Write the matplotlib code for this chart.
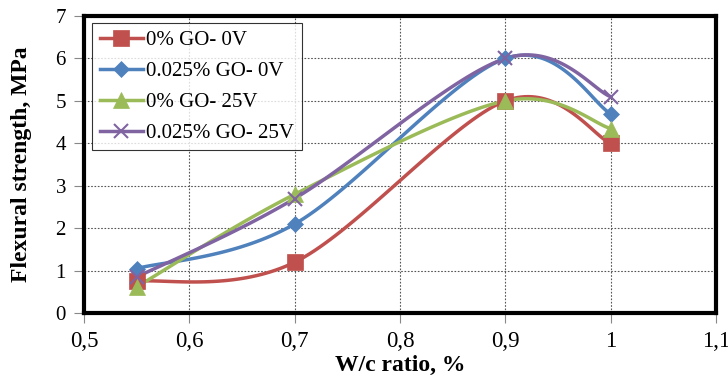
import numpy as np
import matplotlib.pyplot as plt
from matplotlib.ticker import FuncFormatter

# data
wc_ratio = [0.55, 0.7, 0.9, 1.0]
go0_0v = [0.75, 1.2, 5.0, 4.0]
go025_0v = [1.05, 2.1, 6.0, 4.7]
go0_25v = [0.62, 2.8, 5.0, 4.35]
go025_25v = [0.85, 2.7, 6.0, 5.1]
labels = ['0% GO- 0V', '0.025% GO- 0V', '0% GO- 25V', '0.025% GO- 25V']


def smooth(x, y, n=40):
    # Excel-like smoothed line: Catmull-Rom bezier between points
    x = np.asarray(x, float)
    y = np.asarray(y, float)
    px = np.concatenate([[x[0]], x, [x[-1]]])
    py = np.concatenate([[y[0]], y, [y[-1]]])
    xs, ys = [], []
    t = np.linspace(0, 1, n)
    for i in range(1, len(px) - 2):
        p0 = np.array([px[i], py[i]])
        p3 = np.array([px[i + 1], py[i + 1]])
        p1 = p0 + (p3 - np.array([px[i - 1], py[i - 1]])) / 6
        p2 = p3 - (np.array([px[i + 2], py[i + 2]]) - p0) / 6
        b = ((1 - t) ** 3)[:, None] * p0 + (3 * (1 - t) ** 2 * t)[:, None] * p1 \
            + (3 * (1 - t) * t ** 2)[:, None] * p2 + (t ** 3)[:, None] * p3
        xs.extend(b[:, 0])
        ys.extend(b[:, 1])
    return xs, ys


plt.rcParams['font.family'] = ['Liberation Serif', 'DejaVu Serif']

fig = plt.figure(figsize=(7.28, 3.81), dpi=100)
ax = fig.add_axes([0.1154, 0.178, 0.868, 0.78])

series = [go0_0v, go025_0v, go0_25v, go025_25v]
colors = ['#C0504D', '#4F81BD', '#9BBB59', '#8064A2']
markers = ['s', 'D', '^', 'x']
msizes = [11, 8, 11, 10]

for vals, lab, c, m, ms in zip(series, labels, colors, markers, msizes):
    sx, sy = smooth(wc_ratio, vals)
    ax.plot(sx, sy, color=c, lw=2.5, zorder=3)
    ax.plot(wc_ratio, vals, ls='none', marker=m, color=c, ms=ms,
            mew=1.5 if m == 'x' else 0.5, zorder=4)
    ax.plot([], [], color=c, lw=2.5, marker=m, ms=ms,
            mew=1.5 if m == 'x' else 0.5, label=lab)

ax.set_xlim(0.5, 1.1)
ax.set_ylim(0, 7)
ax.set_xticks(np.arange(0.5, 1.11, 0.1))
ax.set_yticks(range(0, 8))
ax.xaxis.set_major_formatter(FuncFormatter(lambda v, p: ('%g' % round(v, 1)).replace('.', ',')))
ax.grid(True, color='#555555', ls=(0, (1.5, 1.5)), lw=0.8)
ax.tick_params(color='#888888', length=7)
ax.tick_params(axis='x', labelsize=16.5, pad=6)
ax.tick_params(axis='y', labelsize=15, pad=6)
for s in ax.spines.values():
    s.set_linewidth(3)
    s.set_color('black')

ax.set_xlabel('W/c ratio, %', fontsize=17, fontweight='bold')
ax.set_ylabel('Flexural strength, MPa', fontsize=17, fontweight='bold')
ax.xaxis.set_label_coords(0.5, -0.14)
ax.yaxis.set_label_coords(-0.082, 0.5)

leg = ax.legend(loc='upper left', bbox_to_anchor=(0.013, 0.976), borderaxespad=0,
                fontsize=15, handlelength=2.1, frameon=True, fancybox=False,
                borderpad=0.35, labelspacing=0.55, handletextpad=0.15)
leg.get_frame().set_edgecolor('black')
leg.get_frame().set_linewidth(0.8)

fig.savefig('out.png', dpi=100)
